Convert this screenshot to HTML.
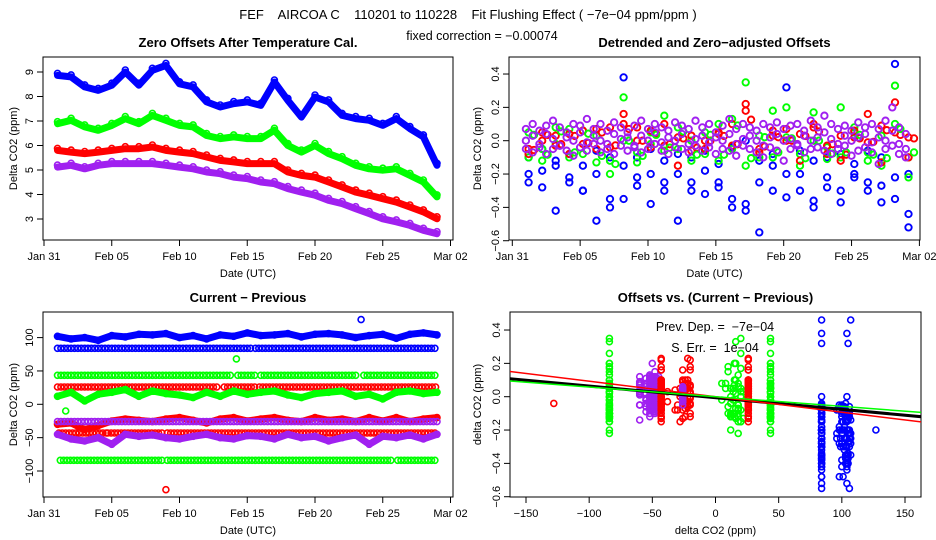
<!DOCTYPE html>
<html><head><meta charset="utf-8">
<style>
html,body{margin:0;padding:0;background:#fff;}
svg{display:block;font-family:"Liberation Sans",sans-serif;}
.pre{white-space:pre;}
</style></head>
<body>
<svg id="chart" width="936" height="540" viewBox="0 0 936 540" xmlns="http://www.w3.org/2000/svg">
<defs>
<clipPath id="clipTL"><rect x="43" y="57" width="410" height="183"/></clipPath>
<clipPath id="clipTR"><rect x="509" y="57" width="411" height="183"/></clipPath>
<clipPath id="clipBL"><rect x="43" y="312" width="410" height="185"/></clipPath>
<clipPath id="clipBR"><rect x="510" y="312" width="411" height="185"/></clipPath>
</defs>
<text class="pre" x="468" y="19" font-size="13" text-anchor="middle">FEF    AIRCOA C    110201 to 110228    Fit Flushing Effect ( −7e−04 ppm/ppm )</text>
<text x="482" y="40" font-size="12.5" text-anchor="middle">fixed correction = −0.00074</text>
<g id="g"></g>
</svg>
<script>
// ---------- data: top-left (daily values, days 1..29) ----------
var tlBlue=[8.86,8.80,8.39,8.25,8.46,9.0,8.46,9.07,9.27,8.52,8.39,7.78,7.57,7.71,7.78,7.64,8.59,7.84,7.16,7.98,7.78,7.23,7.10,7.03,6.82,7.10,6.69,6.35,5.19];
var tlGreen=[6.89,7.03,6.76,6.62,6.82,7.10,6.89,7.23,7.03,6.82,6.76,6.41,6.28,6.35,6.28,6.28,6.62,6.0,5.73,6.0,5.67,5.46,5.19,5.05,4.99,5.05,4.78,4.51,3.90];
var tlRed=[5.80,5.73,5.67,5.73,5.80,5.87,5.87,5.94,5.80,5.73,5.67,5.53,5.39,5.33,5.26,5.26,5.26,4.92,4.78,4.71,4.51,4.31,4.10,3.97,3.83,3.69,3.49,3.29,3.01];
var tlPurple=[5.12,5.19,5.05,5.19,5.26,5.26,5.26,5.26,5.19,5.12,5.05,4.92,4.85,4.71,4.65,4.51,4.44,4.24,4.10,3.97,3.76,3.63,3.42,3.22,3.01,2.88,2.74,2.54,2.40];
var tlYTicks=[3,4,5,6,7,8,9];
var dateTicks=[0,5,10,15,20,25,30];
var dateLabels=["Jan 31","Feb 05","Feb 10","Feb 15","Feb 20","Feb 25","Mar 02"];

// ---------- data: top-right residuals ----------
var purpleA=[0.07,0.1,0.06,0.09,0.12,0.08,0.05,0.1,0.09,0.13,0.07,0.1,0.06,0.11,0.08,0.05,0.09,0.12,0.07,0.1,0.08,0.06,0.11,0.09,0.07,0.12,0.08,0.1,0.05,0.09,0.13,0.07,0.1,0.08,0.06,0.1,0.08,0.11,0.07,0.09,0.1,0.06,0.12,0.08,0.15,0.1,0.07,0.09,0.06,0.11,0.08,0.1,0.07,0.12,0.2,0.08,0.04];
var purpleB=[0.0,0.03,-0.02,0.04,0.01,-0.03,0.02,0.0,0.05,-0.01,0.03,0.0,-0.02,0.04,0.01,0.02,-0.03,0.03,0.0,0.05,-0.01,0.02,0.0,0.04,-0.02,0.01,0.03,-0.01,0.02,0.0,0.04,-0.02,0.01,0.03,0.0,-0.03,0.02,0.04,0.0,0.01,-0.02,0.03,0.0,0.02,0.05,0.01,-0.02,0.03,0.0,0.02,0.04,-0.01,0.02,0.0,0.06,-0.02,-0.05];
var purpleC=[-0.05,-0.07,-0.04,-0.08,-0.05,-0.03,-0.06,-0.09,-0.04,-0.06,-0.02,-0.07,-0.05,-0.08,-0.03,-0.06,-0.04,-0.07,-0.05,-0.02,-0.06,-0.08,-0.04,-0.05,-0.07,-0.03,-0.06,-0.04,-0.08,-0.05,-0.06,-0.09,-0.03,-0.05,-0.07,-0.1,-0.04,-0.06,-0.12,-0.05,-0.03,-0.07,-0.05,-0.04,-0.06,-0.08,-0.05,-0.03,-0.09,-0.06,-0.04,-0.07,-0.14,-0.05,-0.03,-0.08,-0.1];
var blueA=[-0.1,-0.05,-0.12,-0.08,-0.15,-0.06,-0.1,0.38,-0.1,-0.05,-0.12,-0.08,-0.1,-0.06,-0.14,-0.04,0.0,-0.12,-0.08,0.32,-0.06,-0.12,-0.1,-0.08,-0.14,-0.06,-0.1,0.46,-0.2];
var blueB=[-0.25,-0.18,-0.42,-0.25,-0.3,-0.48,-0.4,-0.35,-0.22,-0.38,-0.3,-0.48,-0.25,-0.32,-0.28,-0.4,-0.38,-0.55,-0.3,-0.34,-0.2,-0.36,-0.28,-0.37,-0.22,-0.3,-0.37,-0.35,-0.52];
var blueC=[-0.2,-0.28,-0.15,-0.22,-0.3,-0.2,-0.35,-0.15,-0.27,-0.2,-0.25,-0.2,-0.3,-0.18,-0.25,-0.35,-0.42,-0.25,-0.15,-0.2,-0.3,-0.4,-0.22,-0.3,-0.2,-0.25,-0.27,-0.22,-0.44];
var greenA=[-0.1,-0.05,-0.02,0.07,-0.08,0.03,-0.12,0.26,-0.07,-0.02,0.15,-0.05,0.0,-0.08,0.1,-0.05,0.35,-0.1,0.18,0.2,-0.08,0.17,-0.04,0.2,0.08,-0.07,0.03,0.33,-0.22];
var greenB=[0.05,-0.12,0.08,-0.1,0.06,-0.13,-0.2,0.0,-0.13,0.05,-0.06,0.08,-0.12,0.05,-0.12,0.13,-0.15,0.03,-0.1,0.02,-0.15,0.0,-0.11,-0.1,0.05,-0.12,-0.15,0.1,-0.1];
var redA=[-0.05,0.0,0.03,-0.08,0.06,-0.05,0.08,0.16,0.08,-0.04,0.1,-0.15,0.03,-0.05,0.05,0.1,0.22,-0.07,0.06,0.07,-0.12,0.1,-0.08,0.03,0.06,0.16,-0.13,0.23,-0.1];
var redB=[-0.08,0.05,-0.03,0.04,-0.02,0.07,-0.04,0.1,0.0,0.06,-0.03,0.02,-0.06,0.0,0.04,-0.03,0.18,-0.05,0.03,0.0,0.04,0.08,-0.03,-0.12,0.02,-0.01,0.09,0.05,0.02];
var resTicks=[0.4,0.2,0,-0.2,-0.4,-0.6];
var resLabels=["0.4","0.2","0.0","−0.2","−0.4","−0.6"];

// ---------- data: bottom-left current - previous ----------
var blueWavy=[102,98,100,96,103,101,105,104,106,100,103,98,104,102,107,103,104,106,101,105,106,104,100,103,105,99,105,107,104];
var greenWavy=[12,18,5,15,18,22,12,20,16,14,10,18,12,20,15,18,20,14,10,16,18,20,12,15,8,18,20,16,18];
var redWavy=[-30,-28,-38,-32,-25,-22,-24,-26,-22,-20,-24,-28,-22,-20,-25,-22,-20,-24,-26,-20,-24,-22,-26,-20,-25,-20,-26,-22,-20];
var purpleWavy=[-45,-52,-55,-50,-60,-45,-48,-46,-50,-52,-48,-45,-50,-52,-47,-48,-52,-45,-50,-48,-55,-50,-46,-60,-48,-50,-46,-52,-45];
var blueLevel=84, greenHiLevel=43.5, redHiLevel=26, purpleLevel=-26, redLoLevel=-43, greenLoLevel=-84;
var blueSegs=[[1,15.4],[15.6,24.9],[25.1,29]];
var greenHiSegs=[[1,13.9],[14.3,15.6],[16,23.2],[23.6,28.9]];
var redHiSegs=[[1,12.9],[13.3,15.6],[15.9,28.9]];
var purpleSegs=[[1,29]];
var redLoSegs=[[1.1,4.6],[4.7,8.9],[9.1,29]];
var greenLoSegs=[[1.2,8.8],[9.1,25.8],[26.1,29]];
var blOutDays=[23.4,14.2,1.6,9.0];
var blOutVals=[127,68,-10,-128];
var blOutColors=["#0000ff","#00ff00","#00ff00","#ff0000"];
var blYTicks=[100,50,0,-50,-100];
var blYLabels=["100","50","0","−50","−100"];

// ---------- data: bottom-right fits ----------
var fitSlopes=[-0.0007,-0.00093,-0.00058];
var fitIntercepts=[-0.006,0.0,0.0];
var fitColors=["#000000","#ff0000","#00ff00"];
var fitWidths=[3,1.5,1.5];
var brXTicks=[-150,-100,-50,0,50,100,150];
var brXLabels=["−150","−100","−50","0","50","100","150"];

// ---------- scales ----------
function tlx(d){return 44+d*13.55;}
function tly(v){return 219-(v-3)*24.5;}
function trx(d){return 512.3+d*13.57;}
function try_(v){return 140.7-v*166.7;}
function blx(d){return 44+d*13.55;}
function bly(v){return 404.3-v*0.667;}
function brx(v){return 715.5+v*1.2633;}
function bry(v){return 396.7-v*166.7;}

var NS="http://www.w3.org/2000/svg";
var root=document.getElementById("g");
function mk(tag,attrs,parent){var e=document.createElementNS(NS,tag);for(var k in attrs)e.setAttribute(k,attrs[k]);(parent||root).appendChild(e);return e;}
function txt(s,x,y,size,anchor,rot,parent){var e=mk("text",{x:x,y:y,"font-size":size,"text-anchor":anchor||"middle"},parent);if(rot)e.setAttribute("transform","rotate(-90 "+x+" "+y+")");e.textContent=s;return e;}
var circR=3, circW=1.6;
function circ(parent,x,y,c){var e=mk("circle",{cx:x.toFixed(1),cy:y.toFixed(1),r:circR,fill:"none",stroke:c,"stroke-width":circW},parent);


return e;}

var C={blue:"#0000ff",green:"#00ff00",red:"#ff0000",purple:"#a020f0"};

function panel(name,x0,y0,w,h,title,xlab,ylab,ylabX){
  var g=mk("g",{});
  
  
  var b=mk("rect",{x:x0,y:y0,width:w,height:h,fill:"none",stroke:"#000","stroke-width":1},g);
  
  
  var t=txt(title,x0+w/2,y0-10,13,"middle",false,g);t.setAttribute("font-weight","bold");
  
  
  var xl=txt(xlab,x0+w/2,y0+h+37,11,"middle",false,g);
  
  
  var yl=txt(ylab,ylabX,y0+h/2,11,"middle",true,g);
  
  
  return g;
}
function xAxis(g,ticks,labels,fx,yb){
  for(var i=0;i<ticks.length;i++){var x=fx(ticks[i]);
    mk("line",{x1:x,y1:yb,x2:x,y2:yb+6,stroke:"#000"},g);
    var t=txt(labels[i],x,yb+20,11,"middle",false,g);
    
    }
}
function yAxis(g,ticks,labels,fy,xl){
  for(var i=0;i<ticks.length;i++){var y=fy(ticks[i]);
    mk("line",{x1:xl-6,y1:y,x2:xl,y2:y,stroke:"#000"},g);
    var t=txt(labels[i],xl-10,y,11,"middle",true,g);
    
    }
}

// ===== Panel 1 =====
var p1=panel("zero-offsets-panel",43,57,410,183,"Zero Offsets After Temperature Cal.","Date (UTC)","Delta CO2 (ppm)",17);
xAxis(p1,dateTicks,dateLabels,tlx,240);
yAxis(p1,tlYTicks,tlYTicks.map(String),tly,43);
var p1d=mk("g",{"clip-path":"url(#clipTL)"},p1);
[[tlBlue,C.blue],[tlGreen,C.green],[tlRed,C.red],[tlPurple,C.purple]].forEach(function(s){
  var pts=s[0].map(function(v,i){return tlx(i+1).toFixed(1)+","+tly(v).toFixed(1);}).join(" ");
  var pl=mk("polyline",{points:pts,fill:"none",stroke:s[1],"stroke-width":7,"stroke-linejoin":"round","stroke-linecap":"round"},p1d);
  
  
  s[0].forEach(function(v,i){circ(p1d,tlx(i+1),tly(v)-2,s[1]);});
});

// ===== Panel 2 =====
var p2=panel("detrended-offsets-panel",509,57,411,183,"Detrended and Zero−adjusted Offsets","Date (UTC)","Delta CO2 (ppm)",481);
xAxis(p2,dateTicks,dateLabels,trx,240);
yAxis(p2,resTicks,resLabels,try_,509);
var p2d=mk("g",{"clip-path":"url(#clipTR)"},p2);
circR=3.2; circW=1.9;
[[blueB,C.blue],[blueC,C.blue],[blueA,C.blue],[greenA,C.green],[greenB,C.green],[redA,C.red],[redB,C.red]].forEach(function(s){
  s[0].forEach(function(v,i){circ(p2d,trx(i+1.2),try_(v),s[1]);});
});
[redB,greenB].forEach(function(arr,k){
  arr.forEach(function(v,i){circ(p2d,trx(i+1.6),try_(v*0.7),k?C.green:C.red);});
});
[purpleA,purpleB,purpleC].forEach(function(arr){
  arr.forEach(function(v,i){circ(p2d,trx(1+i*0.5),try_(v),C.purple);});
});
circR=3; circW=1.6;

// ===== Panel 3 =====
var p3=panel("current-minus-previous-panel",43,312,410,185,"Current − Previous","Date (UTC)","Delta CO2 (ppm)",17);
xAxis(p3,dateTicks,dateLabels,blx,497);
yAxis(p3,blYTicks,blYLabels,bly,43);
var p3d=mk("g",{"clip-path":"url(#clipBL)"},p3);
function level(val,segs,c){segs.forEach(function(s){for(var d=s[0];d<=s[1]+0.001;d+=0.25){circ(p3d,blx(d),bly(val),c);}});}
level(blueLevel,blueSegs,C.blue);
level(greenHiLevel,greenHiSegs,C.green);
level(redHiLevel,redHiSegs,C.red);
level(redLoLevel,redLoSegs,C.red);
level(greenLoLevel,greenLoSegs,C.green);
[[blueWavy,C.blue],[greenWavy,C.green],[redWavy,C.red],[purpleWavy,C.purple]].forEach(function(s){
  var pts=s[0].map(function(v,i){return blx(i+1).toFixed(1)+","+bly(v).toFixed(1);}).join(" ");
  var pl=mk("polyline",{points:pts,fill:"none",stroke:s[1],"stroke-width":7,"stroke-linejoin":"round","stroke-linecap":"round"},p3d);
  
  
  s[0].forEach(function(v,i){circ(p3d,blx(i+1),bly(v),s[1]);});
});
level(purpleLevel,purpleSegs,C.purple);
blOutDays.forEach(function(d,i){circ(p3d,blx(d),bly(blOutVals[i]),blOutColors[i]);});

// ===== Panel 4 =====
var p4=panel("offsets-vs-difference-panel",510,312,411,185,"Offsets vs. (Current − Previous)","delta CO2 (ppm)","delta CO2 (ppm)",481);
xAxis(p4,brXTicks,brXLabels,brx,497);
yAxis(p4,resTicks,resLabels,bry,510);
var p4d=mk("g",{"clip-path":"url(#clipBR)"},p4);
function pair(xs,ys,c){ys.forEach(function(v,i){var xv=(typeof xs==="number")?xs:xs[i%xs.length];circ(p4d,brx(xv),bry(v),c);});}
pair(greenLoLevel,greenA,C.green);pair(greenLoLevel,greenB,C.green);
pair(greenHiLevel,greenB,C.green);pair(greenHiLevel,greenA,C.green);
pair(greenWavy,greenA,C.green);pair(greenWavy,greenB,C.green);
pair(purpleWavy,purpleA,C.purple);pair(purpleWavy,purpleB,C.purple);pair(purpleWavy,purpleC,C.purple);
pair(redLoLevel,redB,C.red);pair(redLoLevel,redA,C.red);
pair(redWavy,redA,C.red);pair(redWavy,redB,C.red);
pair(purpleLevel,purpleB,C.purple);
pair(redHiLevel,redA,C.red);pair(redHiLevel,redB,C.red);
pair(blueLevel,blueA,C.blue);pair(blueLevel,blueB,C.blue);pair(blueLevel,blueC,C.blue);
pair(blueWavy,blueA,C.blue);pair(blueWavy,blueB,C.blue);pair(blueWavy,blueC,C.blue);
circ(p4d,brx(-128),bry(-0.04),C.red);
circ(p4d,brx(127),bry(-0.2),C.blue);
fitSlopes.forEach(function(s,i){
  var x1=-170,x2=170;
  var l=mk("line",{x1:brx(x1),y1:bry(fitIntercepts[i]+s*x1),x2:brx(x2),y2:bry(fitIntercepts[i]+s*x2),stroke:fitColors[i],"stroke-width":fitWidths[i]},p4d);
  
  
});
var a1=txt("Prev. Dep. =  −7e−04",715,331,12.5,"middle",false,p4);
a1.setAttribute("class","pre");


var a2=txt("S. Err. =  1e−04",715,352,12.5,"middle",false,p4);
a2.setAttribute("class","pre");


</script>
</body></html>
